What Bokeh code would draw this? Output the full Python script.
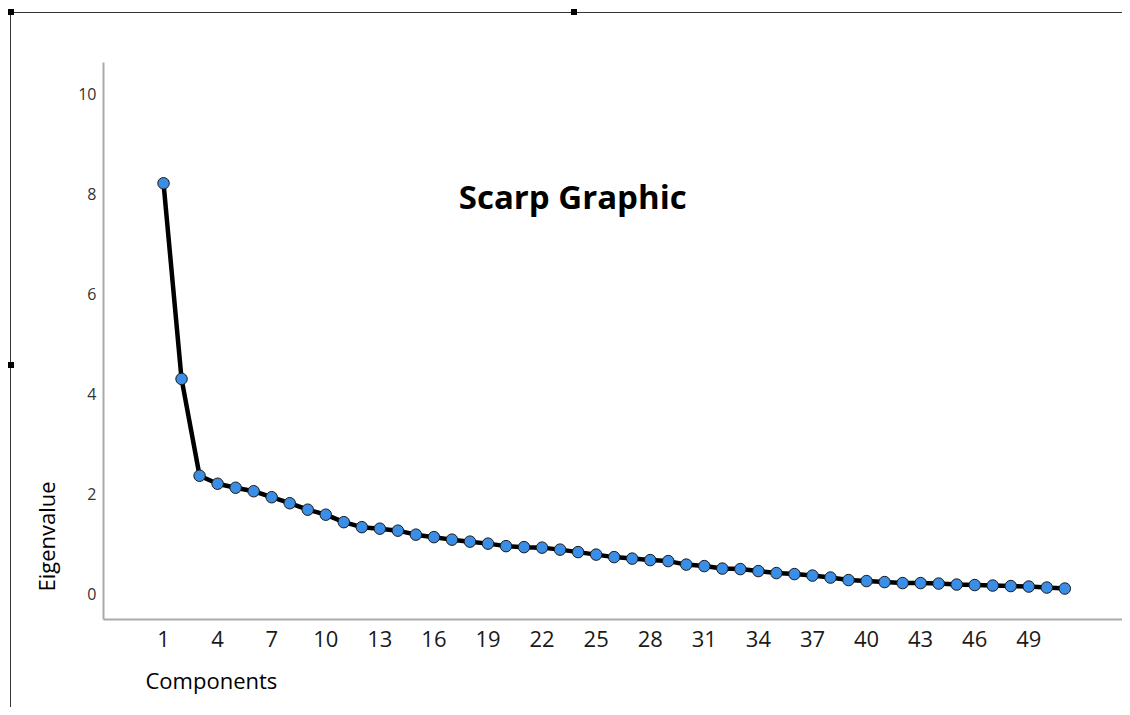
import math
from bokeh.plotting import figure
from bokeh.models import Range1d, FixedTicker, Label, Title, ColumnDataSource, InlineStyleSheet
from bokeh.embed import file_html
from bokeh.resources import INLINE

# ---- data ----
components = [1, 2, 3, 4, 5, 6, 7, 8, 9, 10, 11, 12, 13, 14, 15, 16, 17, 18, 19, 20,
              21, 22, 23, 24, 25, 26, 27, 28, 29, 30, 31, 32, 33, 34, 35, 36, 37, 38, 39, 40,
              41, 42, 43, 44, 45, 46, 47, 48, 49, 50, 51]
eigenvalues = [8.22, 4.30, 2.36, 2.20, 2.12, 2.05, 1.93, 1.81, 1.68, 1.58,
               1.43, 1.33, 1.30, 1.26, 1.18, 1.13, 1.08, 1.04, 1.00, 0.95,
               0.93, 0.92, 0.88, 0.83, 0.78, 0.73, 0.70, 0.67, 0.65, 0.58,
               0.55, 0.50, 0.49, 0.45, 0.41, 0.39, 0.36, 0.32, 0.27, 0.25,
               0.23, 0.21, 0.21, 0.20, 0.18, 0.17, 0.16, 0.15, 0.14, 0.12,
               0.10]
x_ticks = [1, 4, 7, 10, 13, 16, 19, 22, 25, 28, 31, 34, 37, 40, 43, 46, 49]
y_ticks = [0, 2, 4, 6, 8, 10]
title_text = "Scarp Graphic"
x_label = "Components"
y_label = "Eigenvalue"

FONT = "Open Sans"

frame_css = InlineStyleSheet(css="""
:host { position: relative; }
:host::before {
  content: ""; position: absolute; left: 10px; top: 12px; right: 0px; bottom: 0px;
  border-top: 1.5px solid #333; border-left: 1.5px solid #333;
  pointer-events: none; z-index: 10;
}
:host::after {
  content: ""; position: absolute; left: 8px; top: 9px; width: 6px; height: 6px;
  background: #000; box-shadow: 563px 0 0 #000, 0 353px 0 #000;
  pointer-events: none; z-index: 11;
}
""")

p = figure(width=1122, height=707, output_backend="svg", toolbar_location=None,
           x_range=Range1d(-2.33, 54.2), y_range=Range1d(-0.52, 10.64),
           min_border_left=103, min_border_right=0, min_border_top=62, min_border_bottom=87,
           stylesheets=[frame_css])
p.outline_line_color = None
p.xgrid.visible = False
p.ygrid.visible = False
p.background_fill_color = "white"
p.border_fill_color = "white"

src = ColumnDataSource(dict(x=components, y=eigenvalues))
p.line("x", "y", source=src, line_color="black", line_width=4.5)
p.scatter("x", "y", source=src, size=11.5, fill_color="#3a8ee6",
          line_color="#1a1a1a", line_width=1)

for ax in (p.xaxis[0], p.yaxis[0]):
    ax.axis_line_color = "#aaaaaa"
    ax.axis_line_width = 2
    ax.major_tick_line_color = None
    ax.minor_tick_line_color = None
    ax.major_tick_out = 0
    ax.major_tick_in = 0
    ax.major_label_text_font = FONT

p.xaxis.ticker = FixedTicker(ticks=x_ticks)
p.yaxis.ticker = FixedTicker(ticks=y_ticks)
p.xaxis.major_label_text_font_size = "22px"
p.xaxis.major_label_text_color = "#1a1a1a"
p.xaxis.major_label_standoff = 11
p.yaxis.major_label_text_font_size = "16px"
p.yaxis.major_label_text_color = "#333333"
p.yaxis.major_label_standoff = 7

p.add_layout(Label(x=23.7, y=7.95, text=title_text, text_font=FONT,
                   text_font_size="33px", text_font_style="bold",
                   text_align="center", text_baseline="middle", text_color="black"))

p.add_layout(Title(text=x_label, align="left", offset=42, standoff=26,
                   text_font=FONT, text_font_size="22px", text_font_style="normal",
                   text_color="black"), "below")
p.add_layout(Title(text=y_label, align="left", offset=28, standoff=30,
                   text_font=FONT, text_font_size="22px", text_font_style="normal",
                   text_color="black"), "left")

open("out.html", "w").write(file_html(p, INLINE))
